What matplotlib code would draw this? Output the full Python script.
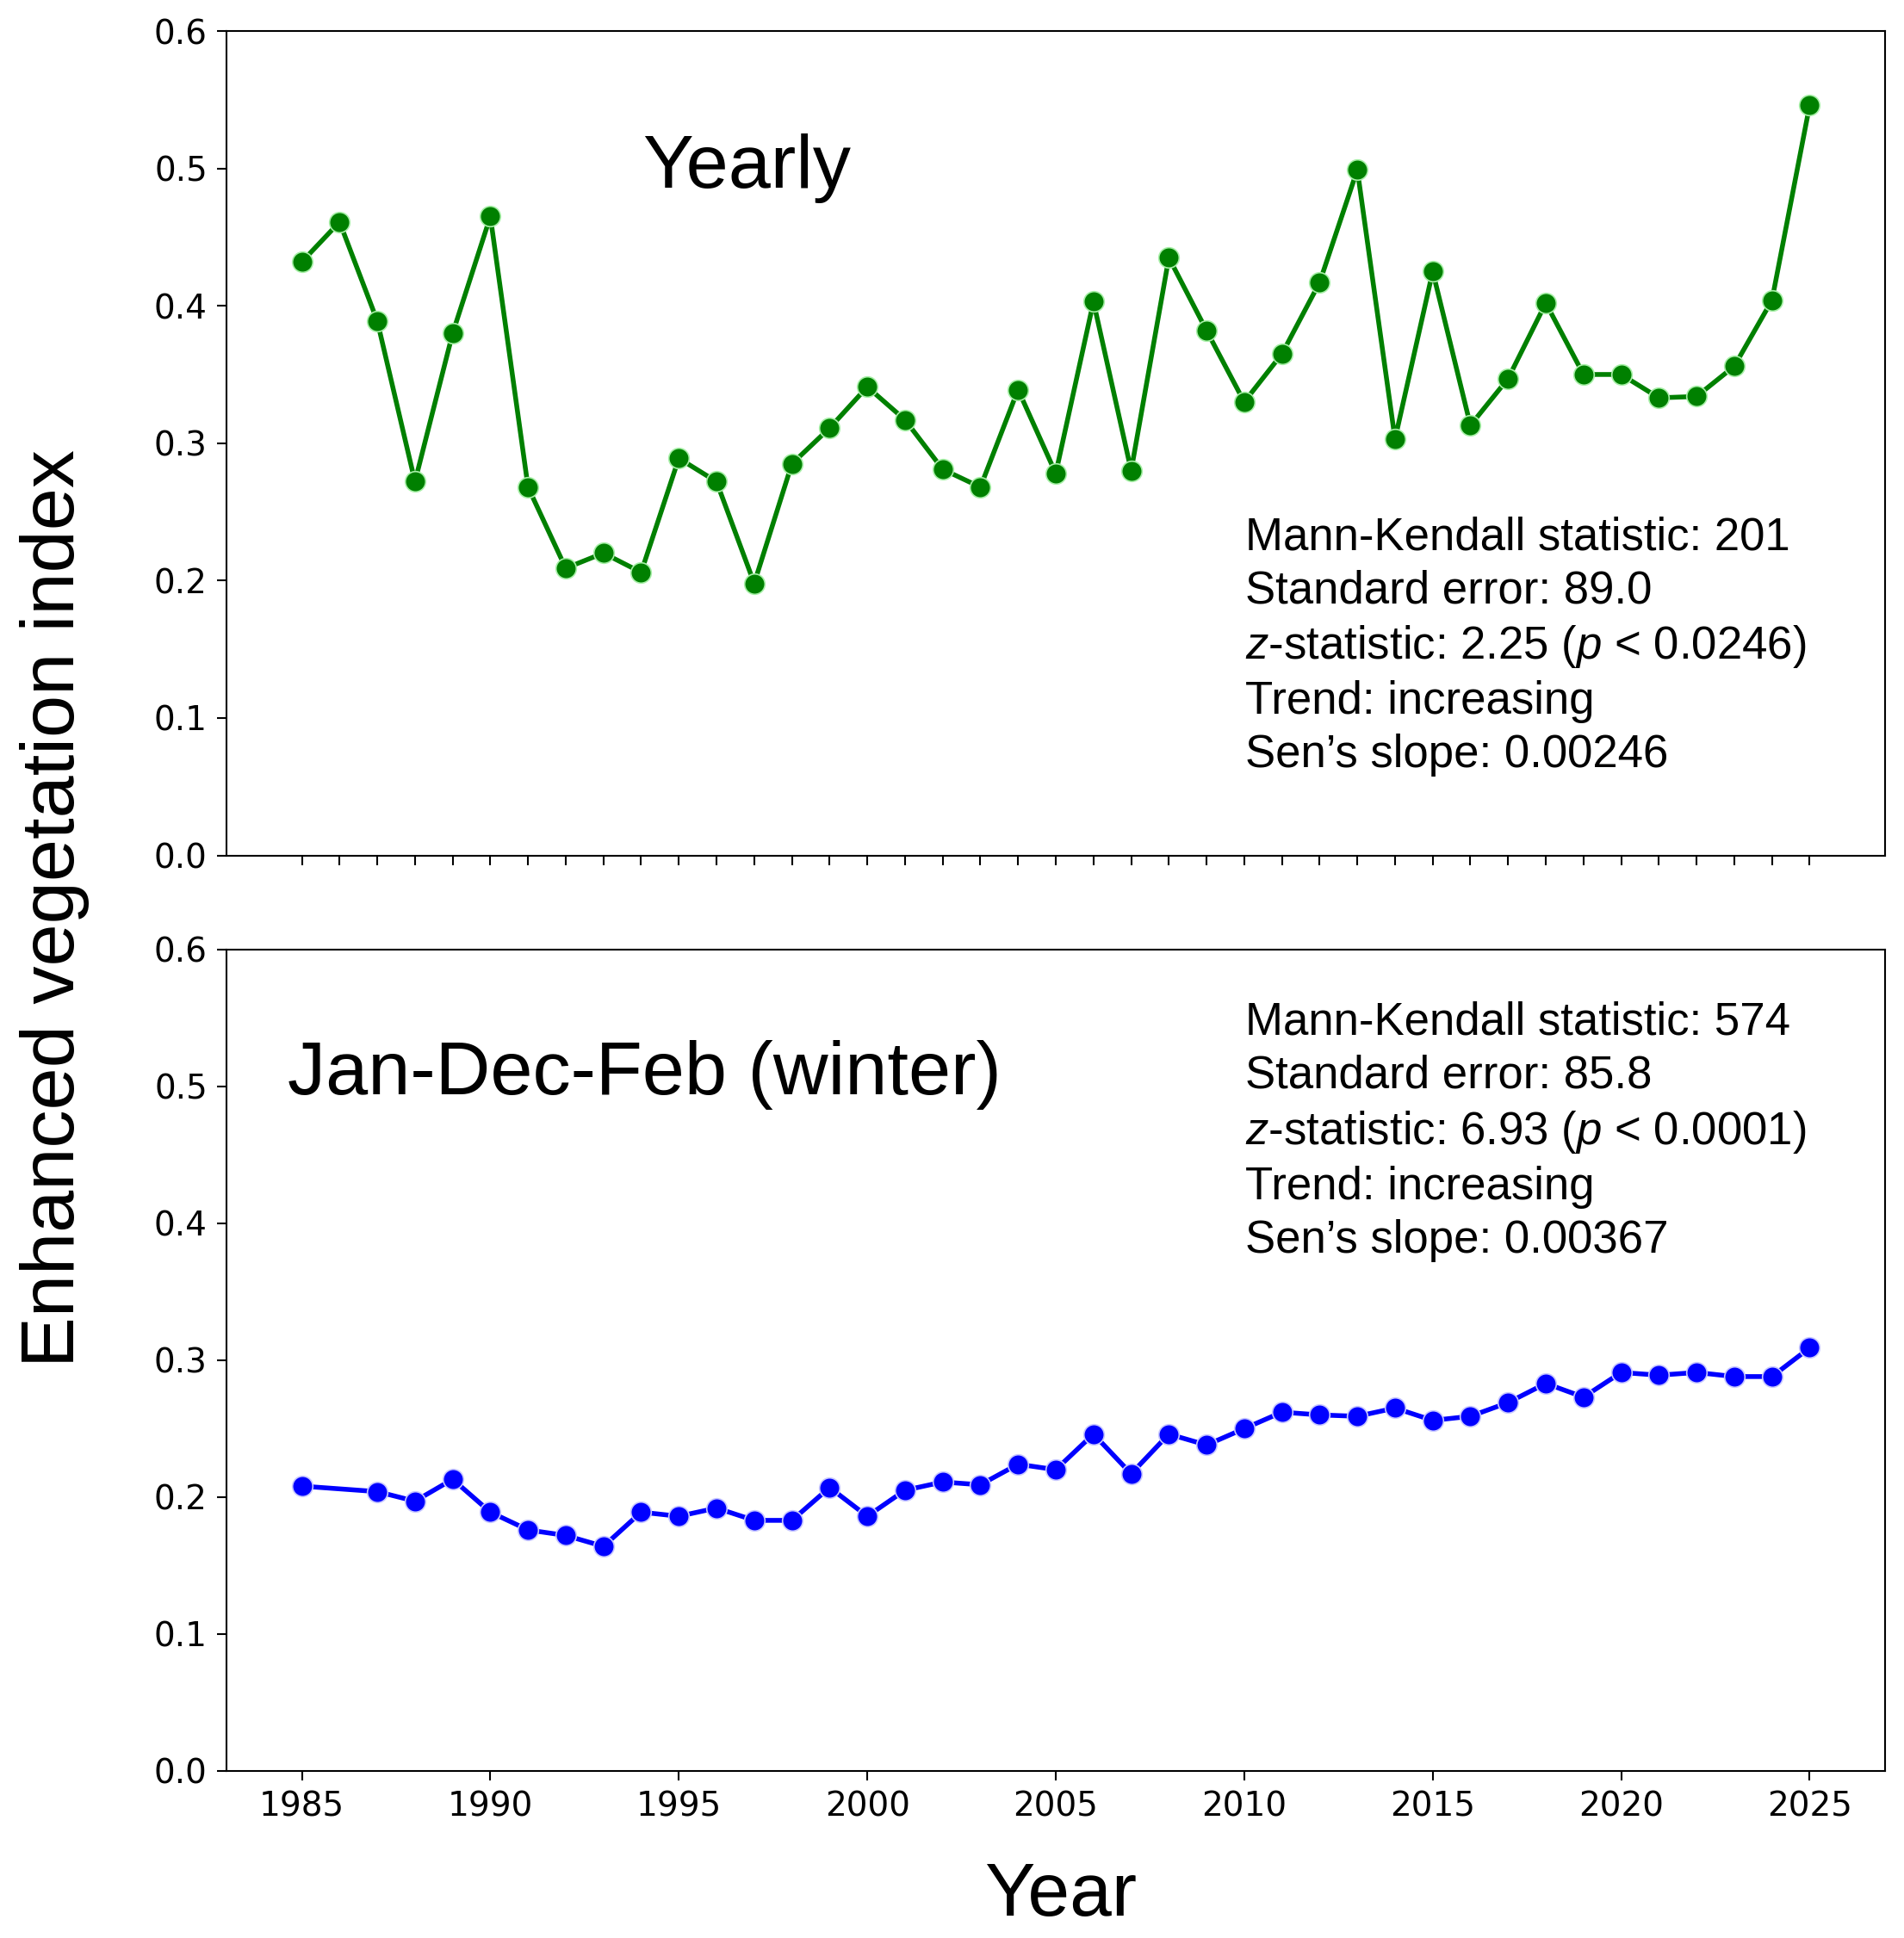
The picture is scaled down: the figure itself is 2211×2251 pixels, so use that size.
import matplotlib
matplotlib.use("Agg")
import matplotlib.pyplot as plt
import numpy as np

# ---------------- data ----------------
years_yearly = list(range(1985, 2026))
evi_yearly = [0.432, 0.461, 0.389, 0.272, 0.380, 0.465, 0.268, 0.209, 0.220, 0.206,
              0.289, 0.272, 0.198, 0.285, 0.311, 0.341, 0.317, 0.281, 0.268, 0.339,
              0.278, 0.403, 0.280, 0.435, 0.382, 0.330, 0.365, 0.417, 0.499, 0.303,
              0.425, 0.313, 0.347, 0.402, 0.350, 0.350, 0.333, 0.334, 0.356, 0.404,
              0.546]

years_winter = [1985] + list(range(1987, 2026))
evi_winter = [0.208, 0.204, 0.197, 0.213, 0.189, 0.176, 0.172, 0.164, 0.189, 0.186,
              0.192, 0.183, 0.183, 0.207, 0.186, 0.205, 0.211, 0.209, 0.224, 0.220,
              0.246, 0.217, 0.246, 0.238, 0.250, 0.262, 0.260, 0.259, 0.265, 0.256,
              0.259, 0.269, 0.283, 0.273, 0.291, 0.289, 0.291, 0.288, 0.288, 0.309]

yticks = [0.0, 0.1, 0.2, 0.3, 0.4, 0.5, 0.6]
xticks_bottom = [1985, 1990, 1995, 2000, 2005, 2010, 2015, 2020, 2025]

title_top = "Yearly"
title_bottom = "Jan-Dec-Feb (winter)"
stats_top = ["Mann-Kendall statistic: 201",
             "Standard error: 89.0",
             "$z$-statistic: 2.25 ($p$ < 0.0246)",
             "Trend: increasing",
             "Sen\u2019s slope: 0.00246"]
stats_bottom = ["Mann-Kendall statistic: 574",
                "Standard error: 85.8",
                "$z$-statistic: 6.93 ($p$ < 0.0001)",
                "Trend: increasing",
                "Sen\u2019s slope: 0.00367"]

# ---------------- style ----------------
plt.rcParams['font.family'] = ['DejaVu Sans']
plt.rcParams['mathtext.fontset'] = 'custom'
plt.rcParams['mathtext.rm'] = 'Liberation Sans'
plt.rcParams['mathtext.it'] = 'Liberation Sans:italic'

W, H = 2211, 2251
fig = plt.figure(figsize=(W / 100, H / 100), dpi=100)

left, right = 263 / W, 2189 / W
ax1 = fig.add_axes([left, 1 - 993.5 / H, right - left, (993.5 - 36) / H])
ax2 = fig.add_axes([left, 1 - 2057 / H, right - left, (2057 - 1102.6) / H])

ax1.plot(years_yearly, evi_yearly, color='green', lw=4, marker='o', ms=17,
         mfc='green', mec='#a8f0a8', mew=1.2, zorder=3)
ax2.plot(years_winter, evi_winter, color='blue', lw=4, marker='o', ms=17,
         mfc='blue', mec='#c8c8ff', mew=1.2, zorder=3)

sans = 'Liberation Sans'
for ax in (ax1, ax2):
    ax.set_xlim(1983, 2027)
    ax.set_ylim(0, 0.6)
    ax.set_yticks(yticks)
    ax.set_yticklabels([f"{v:.1f}" for v in yticks])
    ax.tick_params(axis='y', labelsize=28, length=8, width=1.5, pad=8)
    ax.tick_params(axis='x', labelsize=28, length=8, width=1.5, pad=8)
    for sp in ax.spines.values():
        sp.set_linewidth(1.5)

ax1.set_xticks(years_yearly)
ax1.set_xticklabels([])
ax2.set_xticks(xticks_bottom)
ax2.set_xticklabels([str(v) for v in xticks_bottom])

ax1.text(0.251, 0.81, title_top, transform=ax1.transAxes, fontsize=63.5,
         family=sans, ha='left', va='baseline')
ax2.text(0.037, 0.824, title_bottom, transform=ax2.transAxes, fontsize=63.5,
         family=sans, ha='left', va='baseline')

ax1.text(0.614, 0.412, "\n".join(stats_top), transform=ax1.transAxes, fontsize=38,
         family=sans, ha='left', va='top', linespacing=1.31)
ax2.text(0.614, 0.937, "\n".join(stats_bottom), transform=ax2.transAxes, fontsize=38,
         family=sans, ha='left', va='top', linespacing=1.31)

fig.text(64 / W, 1 - 1055 / H, "Enhanced vegetation index", rotation=90,
         fontsize=63.5, family=sans, ha='center', va='center')
fig.text(1232 / W, 1 - 2225 / H, "Year", fontsize=63, family=sans,
         ha='center', va='baseline')

fig.savefig("out.png", dpi=100)
